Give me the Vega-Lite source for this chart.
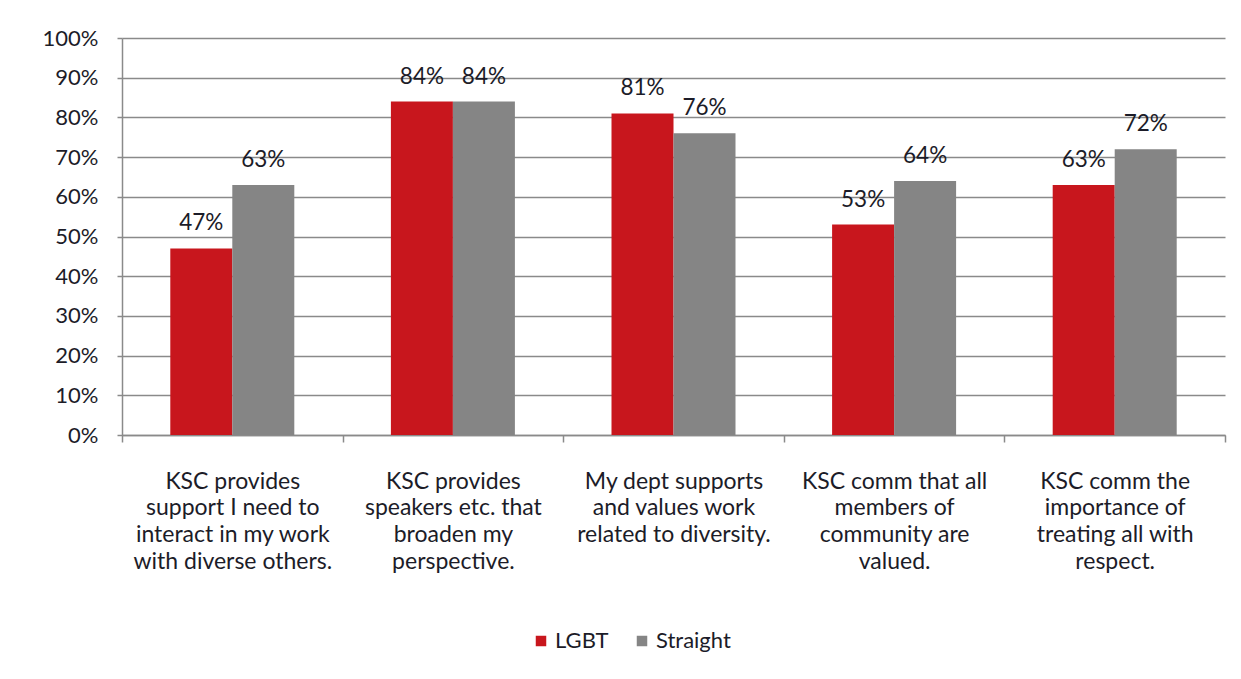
{
  "$schema": "https://vega.github.io/schema/vega-lite/v6.json",
  "autosize": {"type": "none"},
  "width": 1103,
  "height": 397,
  "padding": {"left": 122, "top": 38, "right": 16, "bottom": 244},
  "background": "white",
  "config": {
    "font": "Lato",
    "view": {"stroke": null},
    "axis": {"labelFont": "Lato", "labelColor": "#1c1c28"}
  },
  "data": {
    "values": [
      {"q": "KSC provides|support I need to|interact in my work|with diverse others.", "group": "LGBT", "value": 0.47},
      {"q": "KSC provides|support I need to|interact in my work|with diverse others.", "group": "Straight", "value": 0.63},
      {"q": "KSC provides|speakers etc. that|broaden my|perspective.", "group": "LGBT", "value": 0.84},
      {"q": "KSC provides|speakers etc. that|broaden my|perspective.", "group": "Straight", "value": 0.84},
      {"q": "My dept supports|and values work|related to diversity.", "group": "LGBT", "value": 0.81},
      {"q": "My dept supports|and values work|related to diversity.", "group": "Straight", "value": 0.76},
      {"q": "KSC comm that all|members of|community are|valued.", "group": "LGBT", "value": 0.53},
      {"q": "KSC comm that all|members of|community are|valued.", "group": "Straight", "value": 0.64},
      {"q": "KSC comm the|importance of|treating all with|respect.", "group": "LGBT", "value": 0.63},
      {"q": "KSC comm the|importance of|treating all with|respect.", "group": "Straight", "value": 0.72}
    ]
  },
  "encoding": {
    "x": {
      "field": "q", "type": "nominal", "sort": null,
      "scale": {"paddingInner": 0, "paddingOuter": 0},
      "axis": {
        "title": null, "labelAngle": 0, "labelExpr": "split(datum.label, '|')",
        "labelFontSize": 23, "labelLineHeight": 26.7, "labelPadding": 28, "labelLimit": 0,
        "labelBaseline": "top", "tickBand": "extent", "tickSize": 7, "tickColor": "#8a8a8a",
        "tickWidth": 1.5, "domainColor": "#8a8a8a", "domainWidth": 1.5, "grid": false
      }
    },
    "xOffset": {"field": "group", "type": "nominal", "scale": {"paddingInner": 0, "paddingOuter": 0.779}},
    "y": {
      "field": "value", "type": "quantitative",
      "scale": {"domain": [0, 1], "nice": false},
      "axis": {
        "title": null, "format": ".0%", "values": [0,0.1,0.2,0.3,0.4,0.5,0.6,0.7,0.8,0.9,1],
        "labelOverlap": false,
        "labelFontSize": 22, "labelPadding": 19, "tickSize": 5, "tickColor": "#8a8a8a", "tickWidth": 1.5,
        "domainColor": "#8a8a8a", "domainWidth": 1.5,
        "gridColor": "#8a8a8a", "gridWidth": 1.5
      }
    }
  },
  "layer": [
    {
      "mark": {"type": "bar"},
      "encoding": {
        "color": {
          "field": "group", "type": "nominal",
          "scale": {"domain": ["LGBT", "Straight"], "range": ["#C8161D", "#858585"]},
          "legend": {
            "title": null, "orient": "none", "direction": "horizontal",
            "legendX": 408, "legendY": 592,
            "symbolType": "square", "symbolSize": 110, "symbolStrokeWidth": 0,
            "labelFontSize": 22, "labelColor": "#1c1c28", "labelFont": "Lato",
            "columnPadding": 22, "labelOffset": 3
          }
        }
      }
    },
    {
      "mark": {"type": "text", "baseline": "middle", "dy": -25, "fontSize": 22.5, "color": "#1c1c28", "font": "Lato"},
      "encoding": {
        "text": {"field": "value", "type": "quantitative", "format": ".0%"}
      }
    }
  ]
}
